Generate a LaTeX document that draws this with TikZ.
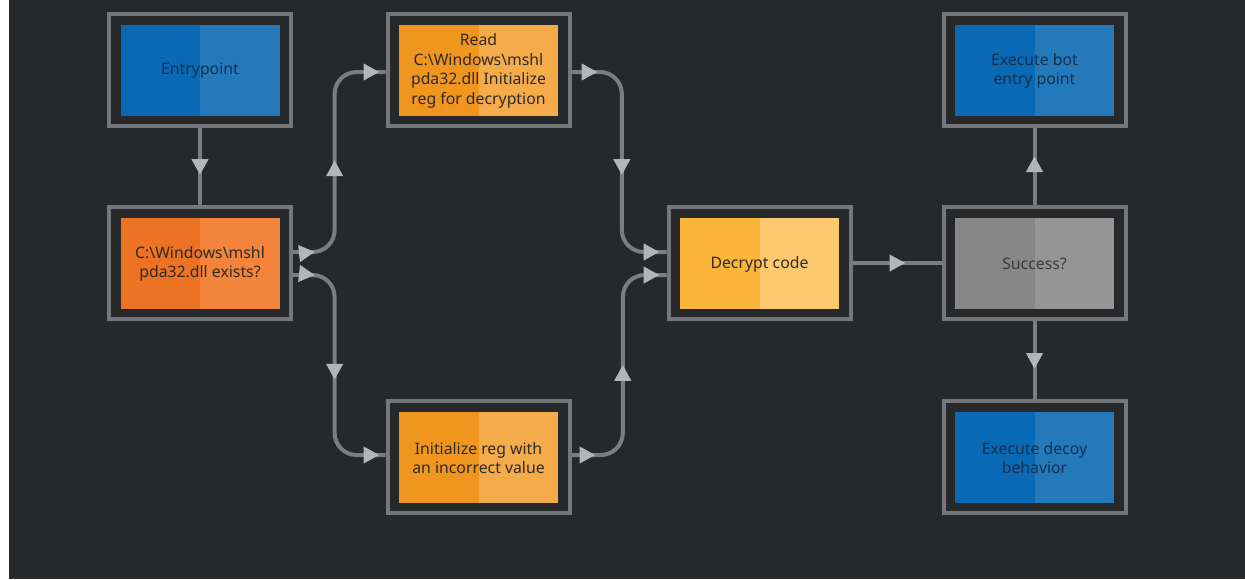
\documentclass[tikz,border=0pt]{standalone}
\usepackage{fontspec}
\setmainfont{Noto Sans}
\usetikzlibrary{calc,arrows.meta,decorations.markings}
\definecolor{bg}{HTML}{27282A}
\definecolor{framegray}{HTML}{75777A}
\definecolor{linegray}{HTML}{7B7D7F}
\definecolor{tipgray}{HTML}{B4B5B6}
\definecolor{blueL}{HTML}{0A69B5}
\definecolor{blueR}{HTML}{2479BA}
\definecolor{blueT}{HTML}{12314F}
\definecolor{redL}{HTML}{EC7224}
\definecolor{redR}{HTML}{F4843C}
\definecolor{oraL}{HTML}{F0951E}
\definecolor{oraR}{HTML}{F4AB4A}
\definecolor{yelL}{HTML}{FBB53A}
\definecolor{yelR}{HTML}{FDC96E}
\definecolor{grayL}{HTML}{878787}
\definecolor{grayR}{HTML}{959595}
\definecolor{grayT}{HTML}{3A3A3A}
\definecolor{darkT}{HTML}{2E2A26}
\newcommand\flowtip{\arrow{Triangle[length=16pt,width=16pt,color=tipgray,fill=tipgray]}}
\newcommand\flowbox[6]{%
  \node[frame] (#1) at (#2) {};
  \fill[#3] ($(#1.center)+(-79.5,-45.5)$) rectangle ($(#1.center)+(0,45.5)$);
  \fill[#4] ($(#1.center)+(0,-45.5)$) rectangle ($(#1.center)+(79.5,45.5)$);
  \node[boxtext, text=#5] (#1-t) at ($(#1.center)+(0,1)$) {#6};
}
\tikzset{
  frame/.style={draw=framegray, line width=4pt, minimum width=182pt, minimum height=112pt, inner sep=0pt},
  boxtext/.style={align=center, font=\fontsize{15.8pt}{19.5pt}\selectfont, inner sep=0pt},
  conn/.style={draw=linegray, line width=4pt, rounded corners=22pt},
  onemark/.style={postaction={decorate}, decoration={markings, mark=at position #1 with {\flowtip}}},
  threemarks/.style n args={3}{postaction={decorate}, decoration={markings,
     mark=at position #1 with {\flowtip},
     mark=at position #2 with {\flowtip},
     mark=at position #3 with {\flowtip}}}
}
\begin{document}
\begin{tikzpicture}[x=1pt,y=-1pt]
\useasboundingbox (0,0) rectangle (1245,579);
\fill[white] (0,0) rectangle (9,579);
\fill[bg] (9,0) rectangle (1245,579);

\flowbox{entry}{200,70}{blueL}{blueR}{blueT}{Entrypoint}
\flowbox{exists}{200,263}{redL}{redR}{darkT}{C:\textbackslash Windows\textbackslash mshl\\pda32.dll exists?}
\flowbox{read}{478.5,70}{oraL}{oraR}{darkT}{Read\\C:\textbackslash Windows\textbackslash mshl\\pda32.dll Initialize\\reg for decryption}
\flowbox{init}{478.5,457}{oraL}{oraR}{darkT}{Initialize reg with\\an incorrect value}
\flowbox{decrypt}{759.5,263}{yelL}{yelR}{darkT}{Decrypt code}
\flowbox{success}{1034.5,263}{grayL}{grayR}{grayT}{Success?}
\flowbox{bot}{1034.5,70}{blueL}{blueR}{blueT}{Execute bot\\entry point}
\flowbox{decoy}{1034.5,457}{blueL}{blueR}{blueT}{Execute decoy\\behavior}

\draw[conn, onemark=47pt] (entry.south) -- (exists.north);
\draw[conn, threemarks={22pt}{124pt}{-6pt}]
  ($(exists.east)+(0,-11)$) -| ($($(exists.east)+(0,-11)$)!0.45!($(read.west)+(0,2)$)$) |- ($(read.west)+(0,2)$);
\draw[conn, threemarks={22pt}{137pt}{-6pt}]
  ($(exists.east)+(0,12)$) -| ($($(exists.east)+(0,12)$)!0.45!($(init.west)+(0,-2)$)$) |- ($(init.west)+(0,-2)$);
\draw[conn, threemarks={26pt}{144pt}{-7pt}]
  ($(read.east)+(0,2)$) -| ($($(read.east)+(0,2)$)!0.53!($(decrypt.west)+(0,-11)$)$) |- ($(decrypt.west)+(0,-11)$);
\draw[conn, threemarks={24pt}{132pt}{-7pt}]
  ($(init.east)+(0,-2)$) -| ($($(init.east)+(0,-2)$)!0.54!($(decrypt.west)+(0,12)$)$) |- ($(decrypt.west)+(0,12)$);
\draw[conn, onemark=53pt] (decrypt.east) -- (success.west);
\draw[conn, onemark=49pt] (success.north) -- (bot.south);
\draw[conn, onemark=48pt] (success.south) -- (decoy.north);
\end{tikzpicture}
\end{document}
